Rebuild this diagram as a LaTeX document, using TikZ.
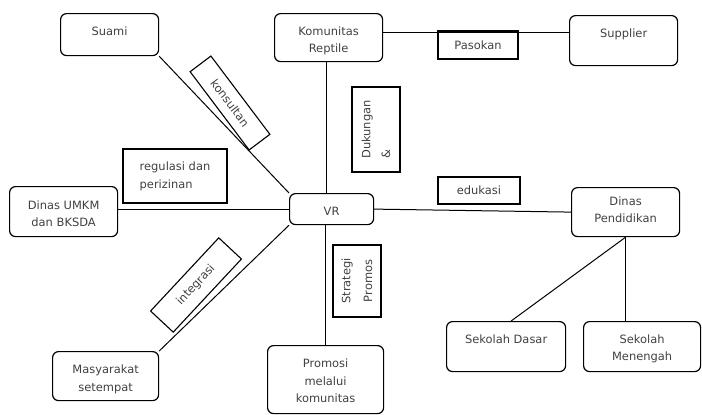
\documentclass[tikz,border=0pt]{standalone}
\usepackage{fontspec}
\setmainfont{DejaVu Sans}
\usepackage{xcolor}
\usepackage{tikz}
\usetikzlibrary{positioning}

\begin{document}
\begin{tikzpicture}[
    x=1bp, y=-1bp,
    block/.style={
        rectangle,
        rounded corners=6bp,
        draw=black,
        line width=1.2bp,
        align=center,
        inner sep=0pt,
        anchor=north west,
        text height=21.5bp,
        text=black!75,
        font=\fontsize{11.5}{17.5}\selectfont
    },
    tag/.style={
        rectangle,
        draw=black,
        line width=1.1bp,
        align=center,
        inner sep=0pt,
        text=black!75,
        font=\fontsize{11.5}{20}\selectfont
    },
    link/.style={
        draw=black,
        line width=1bp
    }
]
\useasboundingbox (0,0) rectangle (702,414);

% Nodes
\node[block, minimum width=98bp, text depth=20.5bp] (suami) at (60,13) {Suami};
\node[block, minimum width=108bp, text height=39bp, text depth=9bp] (komunitas) at (274,13) {Komunitas\\Reptile};
\node[block, minimum width=108bp, text depth=28.5bp] (supplier) at (569,15) {Supplier};
\node[block, minimum width=108bp, text height=40bp, text depth=10bp] (umkm) at (9,186) {Dinas UMKM\\dan BKSDA};
\node[block, minimum width=84bp, text depth=9.5bp] (vr) at (289,193) {VR};
\node[block, minimum width=108bp, text height=35bp, text depth=14bp] (pendidikan) at (571,187) {Dinas\\Pendidikan};
\node[block, minimum width=119bp, text depth=28.5bp] (dasar) at (446,321) {Sekolah Dasar};
\node[block, minimum width=117bp, text height=39bp, text depth=11bp] (menengah) at (583,321) {Sekolah\\Menengah};
\node[block, minimum width=106bp, text height=39.5bp, text depth=9.5bp] (masyarakat) at (52,351) {Masyarakat\\setempat};
\node[block, minimum width=116bp, text height=57bp, text depth=11bp] (promosi) at (267,345) {Promosi\\melalui\\komunitas};

% Lines
\draw[link] (suami.south east) -- (vr.north west);
\draw[link] ([xshift=-2bp]komunitas.south) -- ([xshift=-2bp]komunitas.south |- vr.north);
\draw[link] ([yshift=5bp]komunitas.east) -- ([yshift=5bp]komunitas.east -| supplier.west);
\draw[link] (vr.west) -- (vr.west -| umkm.east);
\draw[link] (vr.east) -- (pendidikan.west);
\draw[link] (vr.south west) -- (masyarakat.north east);
\draw[link] (promosi.north) -- (promosi.north |- vr.south);
\draw[link] (pendidikan.south) -- ([xshift=5bp]dasar.north);
\draw[link] (pendidikan.south) -- (pendidikan.south |- menengah.north);

% Labels
\node[tag, rotate=-53, minimum width=98bp, minimum height=26bp] (konsultan) at (230,103) {konsultan};
\node[tag, align=left, minimum width=104bp, minimum height=54bp, font=\fontsize{11.5}{18}\selectfont] (regulasi) at (175,176) {regulasi dan\\perizinan};
\node[tag, minimum width=80bp, minimum height=28bp] (pasokan) at (478,45) {Pasokan};
\node[tag, rotate=90, align=left, minimum width=85bp, minimum height=48bp] (dukungan) at (376,129.5) {Dukungan\\\&};
\node[tag, minimum width=82bp, minimum height=27bp] (edukasi) at (479,190.5) {edukasi};
\node[tag, rotate=90, minimum width=72bp, minimum height=48bp, font=\fontsize{11.5}{22}\selectfont] (strategi) at (357,281) {Strategi\\Promos};
\node[tag, rotate=47, minimum width=100bp, minimum height=31bp] (integrasi) at (196,285) {integrasi};
\end{tikzpicture}
\end{document}
